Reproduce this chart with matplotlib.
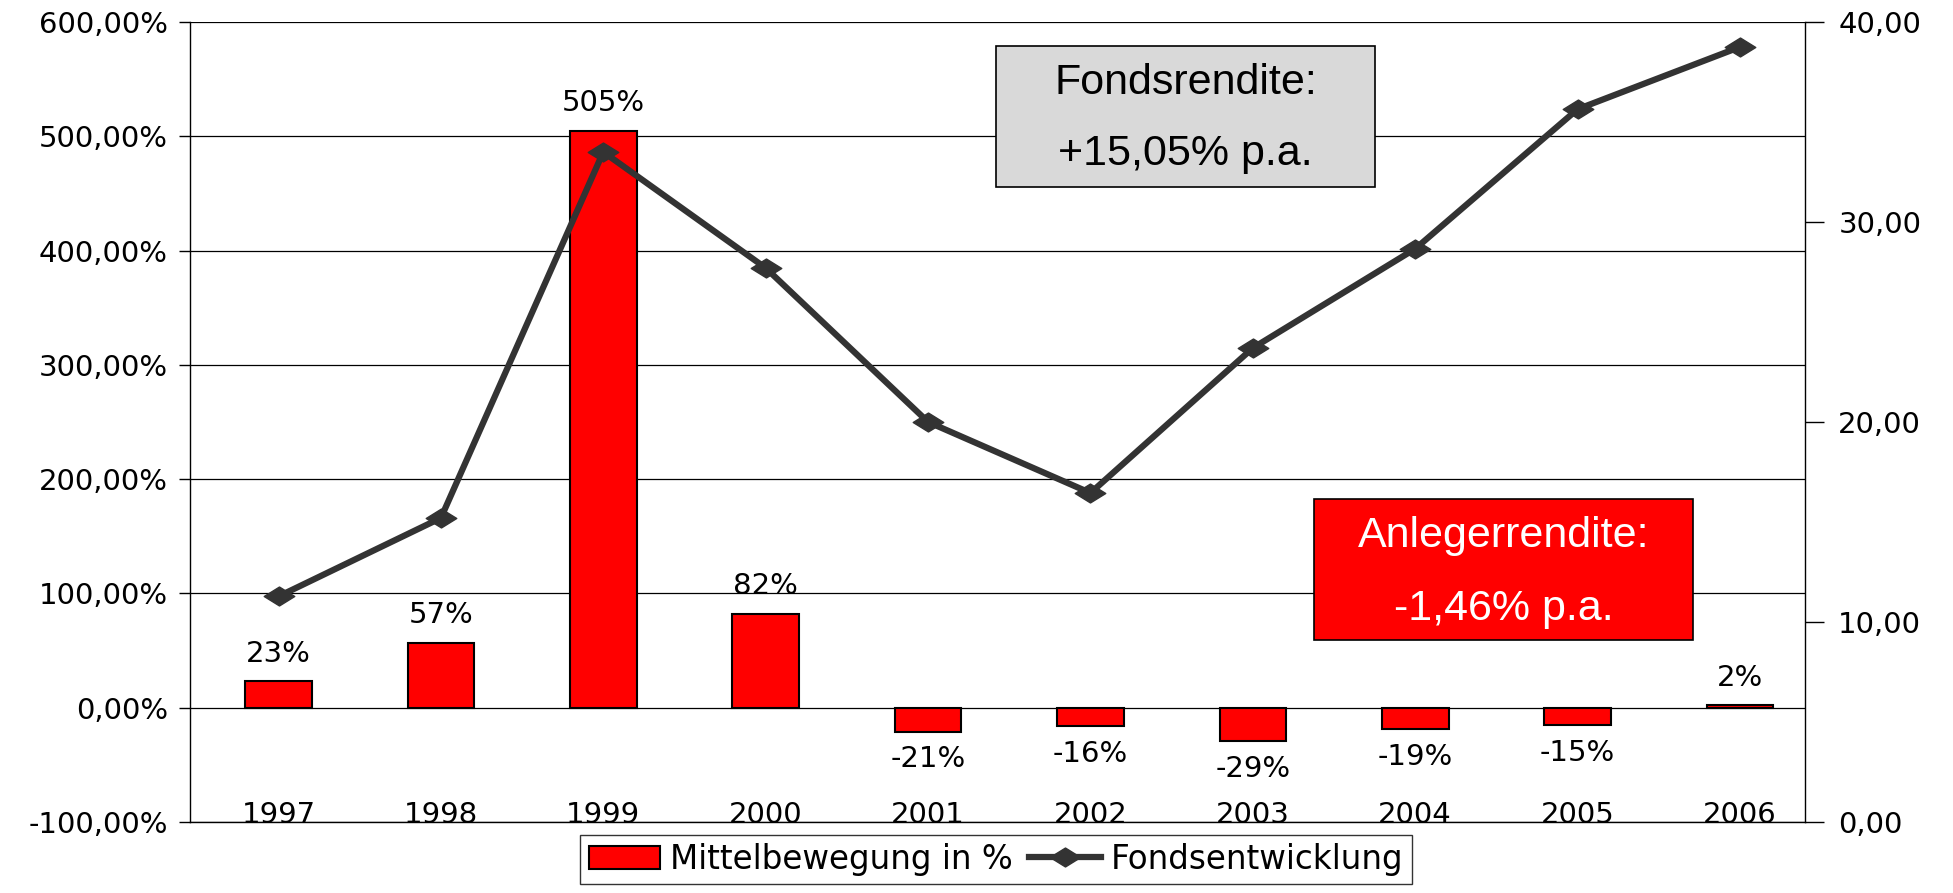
import numpy as np
import matplotlib.pyplot as plt
from matplotlib.ticker import FuncFormatter
from matplotlib.path import Path
from matplotlib.patches import Rectangle

# values
years = ['1997', '1998', '1999', '2000', '2001', '2002', '2003', '2004', '2005', '2006']
mittelbewegung = [23, 57, 505, 82, -21, -16, -29, -19, -15, 2]
fondsentwicklung = [11.28, 15.2, 33.5, 27.7, 20.0, 16.45, 23.7, 28.66, 35.64, 38.75]

left_ticks = [-100, 0, 100, 200, 300, 400, 500, 600]
right_ticks = [0, 10, 20, 30, 40]

fig = plt.figure(figsize=(19.53, 8.93), dpi=100)
ax = fig.add_axes([0.0973, 0.0795, 0.8269, 0.8959])
x = np.arange(len(years))

# bars: Mittelbewegung
bars = ax.bar(x, mittelbewegung, width=0.41, color='#ff0000', edgecolor='black',
              linewidth=1.5, zorder=3, label='Mittelbewegung in %')
for xi, v in zip(x, mittelbewegung):
    if v >= 0:
        ax.text(xi, v + 12, f'{v}%', ha='center', va='bottom', fontsize=21, zorder=5)
    else:
        ax.text(xi, v - 12, f'{v}%', ha='center', va='top', fontsize=21, zorder=5)

ax.set_ylim(-100, 600)
ax.set_yticks(left_ticks)
ax.yaxis.set_major_formatter(FuncFormatter(lambda v, p: f'{v:.2f}'.replace('.', ',') + '%'))
ax.set_xlim(-0.545, 9.4)
ax.set_xticks(x)
ax.set_xticklabels(years)
ax.tick_params(axis='x', length=0, pad=-15, labelsize=21)
ax.tick_params(axis='y', length=8, width=1, labelsize=21, pad=8)
ax.grid(axis='y', color='black', linewidth=0.9, zorder=0)
ax.spines['top'].set_visible(False)
ax.spines['right'].set_visible(False)
for s in ['left', 'bottom']:
    ax.spines[s].set_linewidth(1)

# line: Fondsentwicklung on right axis
ax2 = ax.twinx()
diamond = Path([(-1, 0), (0, 0.62), (1, 0), (0, -0.62), (-1, 0)],
               [Path.MOVETO, Path.LINETO, Path.LINETO, Path.LINETO, Path.CLOSEPOLY])
line, = ax2.plot(x, fondsentwicklung, color='#333333', linewidth=4.5, marker=diamond,
                 markersize=22, markerfacecolor='#333333', markeredgecolor='#333333',
                 zorder=4, label='Fondsentwicklung')
ax2.set_ylim(0, 40)
ax2.set_yticks(right_ticks)
ax2.yaxis.set_major_formatter(FuncFormatter(lambda v, p: f'{v:.2f}'.replace('.', ',')))
ax2.tick_params(axis='y', length=14, width=1, labelsize=21, pad=10)
ax2.spines['top'].set_visible(False)
ax2.spines['left'].set_visible(False)
ax2.spines['bottom'].set_visible(False)
ax2.spines['right'].set_linewidth(1)

# info boxes
fig.add_artist(Rectangle((0.510, 0.7906), 0.194, 0.158, transform=fig.transFigure,
                         facecolor='#d9d9d9', edgecolor='black', linewidth=1.2, zorder=6))
fig.text(0.607, 0.907, 'Fondsrendite:', ha='center', va='center', fontsize=31,
         family='Liberation Sans', zorder=7)
fig.text(0.607, 0.8275, '+15,05% p.a.', ha='center', va='center', fontsize=31,
         family='Liberation Sans', zorder=7)
fig.add_artist(Rectangle((0.6728, 0.2833), 0.194, 0.158, transform=fig.transFigure,
                         facecolor='#ff0000', edgecolor='black', linewidth=1.2, zorder=6))
fig.text(0.7698, 0.400, 'Anlegerrendite:', ha='center', va='center', fontsize=31,
         family='Liberation Sans', color='white', zorder=7)
fig.text(0.7698, 0.318, '-1,46% p.a.', ha='center', va='center', fontsize=31,
         family='Liberation Sans', color='white', zorder=7)

leg = fig.legend([bars, line], ['Mittelbewegung in %', 'Fondsentwicklung'],
                 loc='lower center', bbox_to_anchor=(0.51, -0.008), ncol=2,
                 prop={'family': ['Liberation Sans Narrow', 'DejaVu Sans'], 'size': 23.5},
                 frameon=True, fancybox=False, edgecolor='black', handlelength=2.2,
                 handletextpad=0.3, columnspacing=0.5, borderpad=0.25, markerscale=1.0)
leg.get_frame().set_linewidth(1)

fig.savefig('out.png', dpi=100)
